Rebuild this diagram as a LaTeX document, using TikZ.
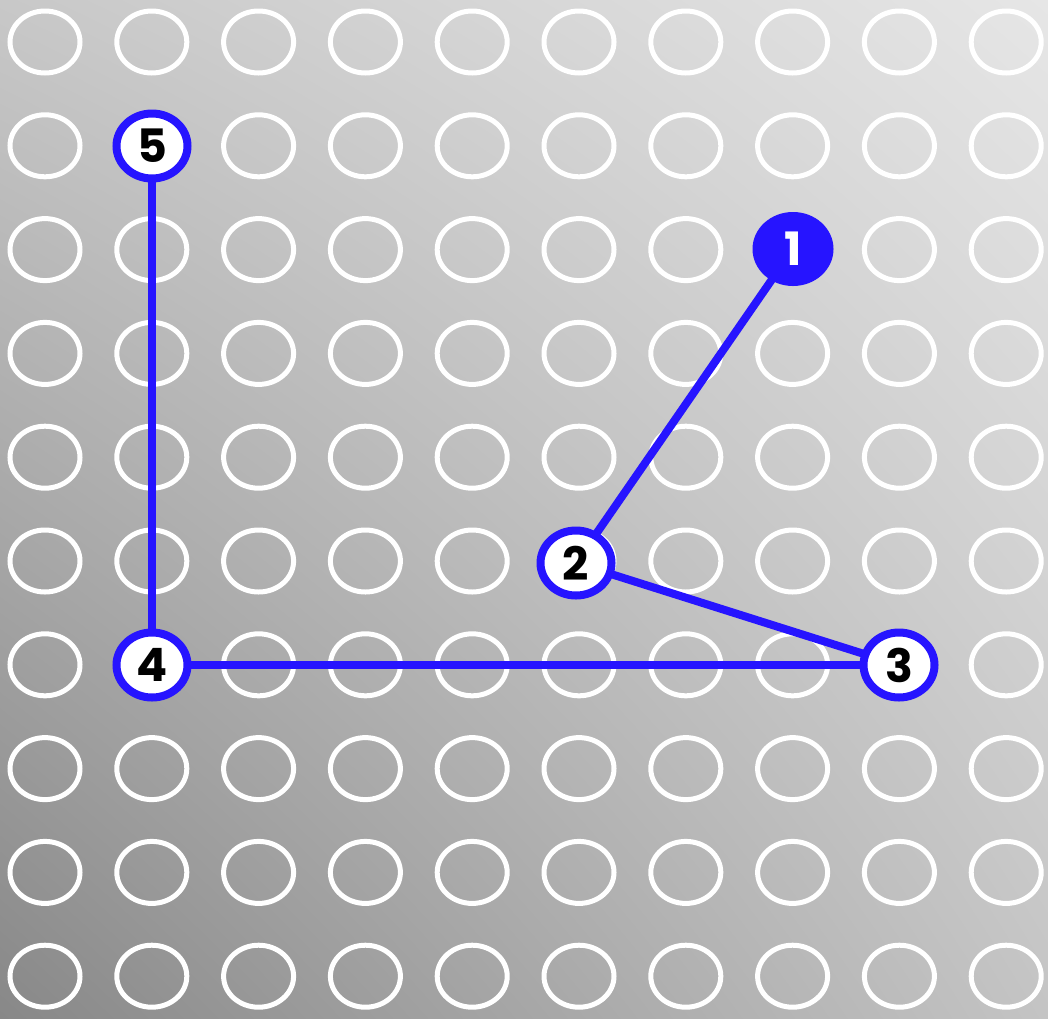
\documentclass[tikz,border=0pt]{standalone}
\usepackage{fontspec}
\setmainfont{Poppins}
\usetikzlibrary{shadings,shapes.geometric}
\definecolor{nblue}{RGB}{38,20,255}
\definecolor{cTL}{RGB}{200,200,200}
\definecolor{cTR}{RGB}{230,230,230}
\definecolor{cBL}{RGB}{136,136,136}
\definecolor{cBR}{RGB}{196,196,196}
\pgfdeclarelayer{bg}
\pgfsetlayers{bg,main}
\begin{document}
\begin{tikzpicture}[x=1pt,y=-1pt,
  gridring/.style={draw=white,line width=5pt},
  opennode/.style={ellipse,draw=nblue,fill=white,line width=8pt,minimum width=71pt,minimum height=65pt,inner sep=0pt,font=\fontsize{46}{46}\selectfont\bfseries,text=black},
  fillnode/.style={ellipse,draw=nblue,fill=nblue,line width=8pt,minimum width=73pt,minimum height=66pt,inner sep=0pt,font=\fontsize{46}{46}\selectfont\bfseries,text=white},
  link/.style={draw=nblue,line width=8pt}]
\useasboundingbox (0,0) rectangle (1048,1018);
\node[fillnode] (n1) at (793,249) {1};
\node[opennode] (n2) at (576,563) {2};
\node[opennode] (n3) at (899,665) {3};
\node[opennode] (n4) at (152,665) {4};
\node[opennode] (n5) at (152,146) {5};
\begin{pgfonlayer}{bg}
\shade[upper left=cTL,upper right=cTR,lower left=cBL,lower right=cBR] (0,0) rectangle (1048,1018);
\foreach \i in {0,...,9}{
  \foreach \j in {0,...,9}{
    \draw[gridring] ({45+106.8*\i},{42+103.8*\j}) ellipse (35pt and 31pt);
  }
}
\draw[link] (n1.center) -- (n2.center);
\draw[link] (n2.center) -- (n3.center);
\draw[link] (n3.center) -- (n4.center);
\draw[link] (n4.center) -- (n5.center);
\end{pgfonlayer}
\end{tikzpicture}
\end{document}
